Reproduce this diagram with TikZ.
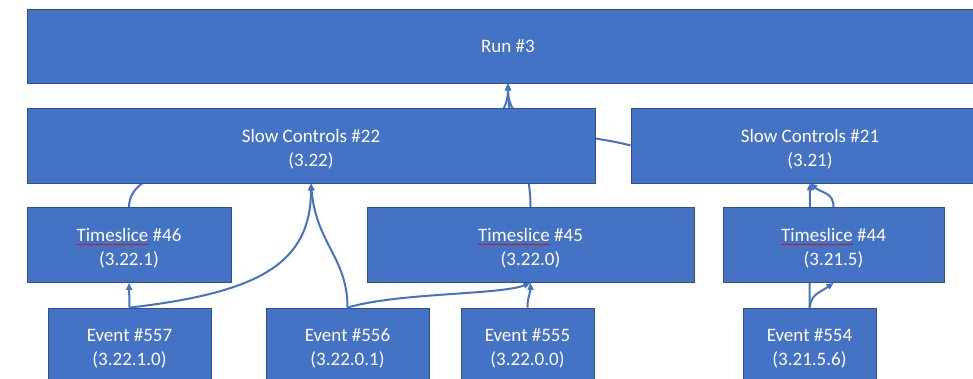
\documentclass[tikz,border=0pt]{standalone}
\usepackage{fontspec}
\setmainfont{Carlito}
\usetikzlibrary{arrows.meta,decorations.pathmorphing}
\definecolor{boxblue}{HTML}{4472C4}
\definecolor{edgeblue}{HTML}{2F528F}
\pgfdeclarelayer{bg}
\pgfsetlayers{bg,main}
% spell-check squiggle under a word
\newcommand\squig[1]{\setbox0\hbox{#1}\hbox to 0pt{\tikz[overlay,baseline=0pt]\draw[red!85!black,line width=.45pt,
  decorate,decoration={snake,amplitude=.55pt,segment length=2.6pt}] (0pt,-2.8pt) -- (\the\wd0,-2.8pt);\hss}\box0\relax}
% pushes a two-line label down a little
\newcommand\lift{\rule{0pt}{20pt}}

\begin{document}
\begin{tikzpicture}[x=1pt,y=-1pt,
  block/.style={draw=edgeblue,line width=.8pt,fill=boxblue,text=white,align=center,
    inner sep=0pt,font=\fontsize{19}{24}\selectfont},
  link/.style={-{Triangle[length=7pt,width=6pt]},line width=2pt,boxblue}
]
  \useasboundingbox (0,0) rectangle (973,379);
  \clip (0,0) rectangle (973,379);
  \node[block,minimum width=962pt,minimum height=74pt] (run) at (508,46) {Run \#3};
  \node[block,minimum width=568pt,minimum height=75pt] (sc22) at (311,145.5) {\lift Slow Controls \#22\\(3.22)};
  \node[block,minimum width=358pt,minimum height=75pt] (sc21) at (810,145.5) {\lift Slow Controls \#21\\(3.21)};
  \node[block,minimum width=204pt,minimum height=75pt] (ts46) at (129,245) {\lift\squig{Timeslice} \#46\\(3.22.1)};
  \node[block,minimum width=327pt,minimum height=75pt] (ts45) at (530.5,245) {\lift\squig{Timeslice} \#45\\(3.22.0)};
  \node[block,minimum width=221pt,minimum height=75pt] (ts44) at (833.5,245) {\lift\squig{Timeslice} \#44\\(3.21.5)};
  \node[block,minimum width=163pt,minimum height=74pt] (ev557) at (129.5,345) {\lift Event \#557\\(3.22.1.0)};
  \node[block,minimum width=163pt,minimum height=74pt] (ev556) at (347.5,345) {\lift Event \#556\\(3.22.0.1)};
  \node[block,minimum width=133pt,minimum height=74pt] (ev555) at (527.5,345) {\lift Event \#555\\(3.22.0.0)};
  \node[block,minimum width=133pt,minimum height=74pt] (ev554) at (809.5,345) {\lift Event \#554\\(3.21.5.6)};

  \begin{pgfonlayer}{bg}
    % up to the run
    \draw[link] (ts46.north) .. controls +(0,-88) and +(0,117) .. (run.south);
    \draw[link] (ts45.north) .. controls +(0,-50) and +(0,50) .. (run.south);
    \draw[link] (sc21.west) .. controls +(-52,-14) and +(0,54) .. (run.south);
    % slow controls #22 side
    \draw[link] (ev557.north) -- (ts46.south);
    \draw[link] (ev557.north) .. controls +(130,-15) and +(0,80) .. (sc22.south);
    \draw[link] (ev556.north) .. controls +(0,-50) and +(5,60) .. (sc22.south);
    \draw[link] (ev556.north) .. controls +(50,-15) and +(-30,12) .. (ts45.south);
    \draw[link] (ev555.north) .. controls +(0,-12) and +(0,12) .. (ts45.south);
    % slow controls #21 side
    \draw[link] (ev554.north) .. controls +(2,-14) and +(-14,10) .. (ts44.south);
    \draw[link] (ev554.north) -- (sc21.south);
    \draw[link] (ts44.north) .. controls +(0,-15) and +(12,10) .. (sc21.south);
  \end{pgfonlayer}
\end{tikzpicture}
\end{document}
